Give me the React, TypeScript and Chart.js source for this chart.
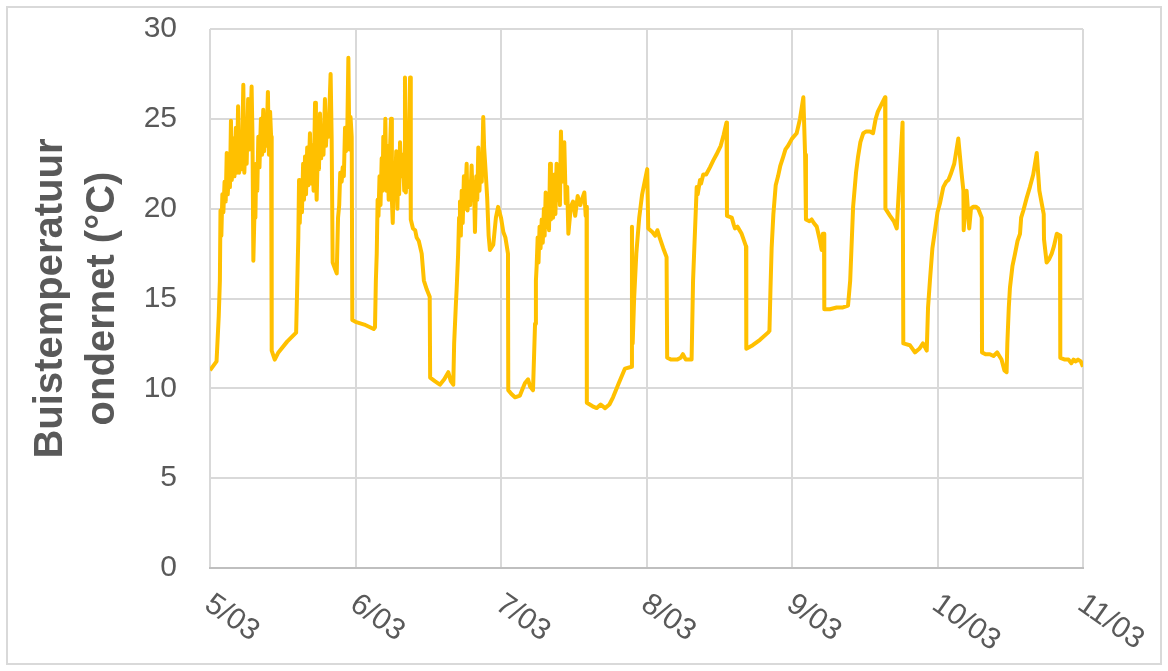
import React, { useEffect, useRef } from "react";
import { Chart, registerables } from "chart.js";

Chart.register(...registerables);

const xTickLabels = ["5/03", "6/03", "7/03", "8/03", "9/03", "10/03", "11/03"];
const yTicks = [0, 5, 10, 15, 20, 25, 30];
const yTitle = ["Buistemperatuur", "ondernet (°C)"];

// time in days since 5/03 00:00
const times = [
  0, 0.045, 0.06, 0.068, 0.072, 0.078, 0.085, 0.092, 0.1, 0.108, 0.115, 0.122, 0.13, 0.137, 0.144, 0.15, 0.16, 0.168, 0.178, 0.185,
  0.193, 0.2, 0.21, 0.218, 0.229, 0.236, 0.245, 0.252, 0.262, 0.27, 0.278, 0.286, 0.292, 0.298, 0.306, 0.312, 0.318, 0.325, 0.332, 0.34,
  0.35, 0.358, 0.366, 0.372, 0.38, 0.388, 0.398, 0.405, 0.413, 0.42, 0.424, 0.445, 0.47, 0.53, 0.592, 0.6, 0.607, 0.612, 0.617, 0.625,
  0.632, 0.64, 0.646, 0.653, 0.66, 0.668, 0.675, 0.687, 0.694, 0.703, 0.712, 0.722, 0.728, 0.733, 0.742, 0.749, 0.756, 0.764, 0.772, 0.78,
  0.79, 0.797, 0.806, 0.814, 0.829, 0.836, 0.843, 0.871, 0.88, 0.888, 0.895, 0.905, 0.912, 0.92, 0.928, 0.935, 0.943, 0.951, 0.958, 0.966,
  0.974, 0.978,
  1.0, 1.06, 1.1, 1.125, 1.134, 1.14, 1.146, 1.152, 1.158, 1.165, 1.172, 1.18, 1.186, 1.191, 1.198, 1.205, 1.212, 1.22, 1.228, 1.236,
  1.244, 1.25, 1.256, 1.265, 1.272, 1.28, 1.288, 1.295, 1.3, 1.306, 1.315, 1.325, 1.335, 1.34, 1.346, 1.355, 1.362, 1.375, 1.38, 1.395,
  1.41, 1.42, 1.435, 1.455, 1.47, 1.49, 1.51, 1.513, 1.545, 1.58, 1.61, 1.638, 1.655, 1.672, 1.678, 1.69, 1.695, 1.705, 1.712, 1.718,
  1.724, 1.73, 1.737, 1.745, 1.752, 1.764, 1.77, 1.78, 1.788, 1.798, 1.806, 1.814, 1.821, 1.83, 1.837, 1.844, 1.852, 1.86, 1.868, 1.878,
  1.884, 1.895, 1.905, 1.915, 1.924, 1.947, 1.965, 1.98, 2.0, 2.016, 2.03, 2.048,
  2.05, 2.07, 2.096, 2.13, 2.15, 2.165, 2.186, 2.2, 2.22, 2.228, 2.234, 2.24, 2.245, 2.252, 2.258, 2.265, 2.272, 2.28, 2.287, 2.295,
  2.3, 2.307, 2.314, 2.322, 2.33, 2.337, 2.343, 2.352, 2.358, 2.367, 2.374, 2.382, 2.39, 2.398, 2.405, 2.412, 2.42, 2.428, 2.435, 2.445,
  2.455, 2.463, 2.48, 2.495, 2.51, 2.527, 2.545, 2.56, 2.573, 2.582, 2.588, 2.59, 2.63, 2.658, 2.685, 2.715, 2.745, 2.77, 2.81, 2.852,
  2.898, 2.9, 2.905, 2.915, 2.93, 2.95, 2.97, 2.99, 3.005,
  3.012, 3.04, 3.06, 3.075, 3.09, 3.115, 3.138, 3.142, 3.17, 3.21, 3.235, 3.25, 3.27, 3.31, 3.32, 3.345, 3.352, 3.368, 3.375, 3.39,
  3.41, 3.436, 3.46, 3.48, 3.51, 3.53, 3.55, 3.553, 3.586, 3.6, 3.608, 3.625, 3.654, 3.684, 3.686, 3.73, 3.78, 3.835, 3.845, 3.852,
  3.86, 3.872, 3.888, 3.904, 3.92, 3.94, 3.955, 3.973, 4.0,
  4.032, 4.055, 4.078, 4.09, 4.096, 4.12, 4.135, 4.15, 4.17, 4.19, 4.204, 4.212, 4.22, 4.222, 4.26, 4.307, 4.35, 4.385, 4.4, 4.42,
  4.44, 4.454, 4.47, 4.49, 4.51, 4.536, 4.557, 4.575, 4.59, 4.615, 4.64, 4.642, 4.674, 4.7, 4.72, 4.76, 4.765, 4.81, 4.845, 4.875,
  4.9, 4.926, 4.935, 4.948, 4.965, 4.983, 5.0,
  5.017, 5.04, 5.06, 5.075, 5.09, 5.115, 5.143, 5.165, 5.178, 5.18, 5.2, 5.218, 5.23, 5.245, 5.265, 5.28, 5.304, 5.306, 5.33, 5.36,
  5.385, 5.41, 5.425, 5.44, 5.46, 5.475, 5.48, 5.49, 5.498, 5.515, 5.533, 5.55, 5.567, 5.575, 5.59, 5.613, 5.635, 5.658, 5.682, 5.7,
  5.73, 5.732, 5.75, 5.768, 5.785, 5.8, 5.82, 5.842, 5.844, 5.876, 5.9, 5.92, 5.935, 5.95, 5.966, 5.985, 6.0,
];

const temps = [
  11.0, 11.5, 14.0, 16.0, 19.9, 18.5, 20.8, 19.8, 21.5, 20.4, 23.1, 20.8, 22.0, 21.2, 24.9, 21.6, 23.9, 21.8, 24.5, 22.0,
  25.7, 22.0, 24.0, 22.2, 26.9, 22.0, 24.2, 22.5, 26.1, 23.3, 24.5, 26.8, 24.0, 17.1, 19.9, 19.5, 22.5, 21.0, 24.0, 22.3,
  25.0, 23.0, 25.5, 23.2, 24.5, 23.5, 26.5, 23.0, 25.4, 24.0, 12.1, 11.6, 12.0, 12.6, 13.1, 15.9, 18.4, 21.6, 19.2, 21.6,
  19.8, 22.5, 20.5, 22.9, 20.8, 23.4, 21.3, 24.2, 21.4, 23.5, 21.0, 25.9, 22.0, 20.5, 23.5, 22.2, 25.3, 22.8, 24.3, 23.0,
  26.1, 23.5, 25.0, 24.0, 27.5, 24.0, 17.0, 16.4, 19.5, 20.2, 22.0, 21.5, 22.3, 21.8, 24.5, 23.2, 24.0, 28.4, 23.3, 25.1,
  24.0, 13.8,
  13.7, 13.55, 13.4, 13.3, 13.4, 16.0, 17.5, 20.5, 19.6, 21.8, 20.2, 22.8, 21.0, 24.0, 21.5, 25.0, 21.0, 23.5, 20.5, 23.0,
  25.0, 20.5, 19.2, 22.5, 21.2, 23.2, 20.0, 22.8, 20.8, 23.7, 21.8, 23.0, 21.0, 27.3, 20.9, 23.0, 21.2, 27.3, 19.4, 18.9,
  18.8, 18.4, 18.2, 17.5, 16.0, 15.5, 15.1, 10.6, 10.4, 10.2, 10.5, 10.9, 10.4, 10.2, 12.5, 14.7, 15.5, 17.4, 19.5, 20.4,
  18.5, 21.0, 19.2, 21.8, 20.0, 22.5, 19.9, 21.5, 20.2, 22.4, 20.5, 21.5, 18.7, 21.8, 20.5, 23.4, 21.0, 23.0, 21.5, 25.1,
  23.4, 22.0, 20.6, 18.5, 17.7, 18.0, 19.5, 20.1, 19.5, 18.7, 18.4, 17.5,
  9.9, 9.7, 9.5, 9.6, 10.0, 10.3, 10.5, 10.1, 9.9, 12.0, 13.6, 16.0, 16.8, 18.4, 17.0, 19.0, 17.8, 19.4, 18.1, 20.0,
  18.5, 20.9, 19.0, 19.7, 18.8, 22.5, 19.4, 21.0, 19.5, 21.9, 19.7, 22.5, 20.5, 21.5, 20.2, 24.3, 21.5, 22.5, 23.7, 20.3,
  21.2, 18.6, 20.1, 20.4, 19.6, 20.7, 20.2, 20.6, 20.9, 19.6, 20.1, 9.2, 9.0, 8.9, 9.1, 8.9, 9.1, 9.5, 10.3, 11.1,
  11.2, 19.0, 12.5, 15.0, 17.5, 19.5, 20.8, 21.6, 22.2,
  18.9, 18.7, 18.5, 18.8, 18.4, 17.8, 17.3, 11.7, 11.6, 11.6, 11.7, 11.9, 11.6, 11.6, 16.0, 21.2, 20.8, 21.6, 21.4, 21.9,
  21.9, 22.3, 22.7, 23.0, 23.5, 24.1, 24.8, 19.6, 19.5, 19.1, 18.9, 19.0, 18.6, 17.9, 12.2, 12.4, 12.7, 13.1, 13.2, 15.5,
  17.8, 19.7, 21.3, 21.8, 22.4, 22.9, 23.3, 23.5, 23.9,
  24.2, 25.0, 26.2, 23.0, 19.4, 19.3, 19.4, 19.2, 19.0, 18.3, 17.7, 18.6, 18.6, 14.4, 14.4, 14.5, 14.5, 14.6, 16.0, 20.1,
  22.0, 22.9, 23.7, 24.2, 24.3, 24.3, 24.2, 25.0, 25.4, 25.8, 26.2, 20.0, 19.6, 19.3, 18.9, 24.8, 12.5, 12.4, 12.0, 12.2,
  12.5, 12.1, 14.5, 16.0, 17.8, 18.8, 19.8,
  20.3, 21.2, 21.5, 21.6, 21.9, 22.5, 23.9, 22.0, 21.0, 18.8, 21.0, 18.9, 20.0, 20.1, 20.1, 20.0, 19.5, 12.0, 11.9, 11.9,
  11.8, 12.0, 11.8, 11.6, 11.0, 10.9, 12.5, 14.5, 15.6, 16.8, 17.5, 18.2, 18.6, 19.5, 19.9, 20.6, 21.2, 21.9, 23.1, 21.0,
  19.7, 18.3, 17.0, 17.2, 17.5, 17.9, 18.6, 18.5, 11.7, 11.6, 11.6, 11.4, 11.6, 11.5, 11.6, 11.5, 11.2,
];

const FONT = '"Liberation Sans", Arial, sans-serif';
const TEXT_COLOR = "#595959";

const xLabelPlugin = {
  id: "rotatedXLabels",
  afterDraw(chart: any) {
    const ctx = chart.ctx;
    const xs = chart.scales.x;
    ctx.save();
    ctx.font = `30px ${FONT}`;
    ctx.fillStyle = TEXT_COLOR;
    ctx.textAlign = "left";
    ctx.textBaseline = "alphabetic";
    xTickLabels.forEach((lab, i) => {
      const px = xs.getPixelForValue(i);
      ctx.save();
      ctx.translate(px - 7, chart.chartArea.bottom + 40);
      ctx.rotate((35 * Math.PI) / 180);
      ctx.fillText(lab, 0, 0);
      ctx.restore();
    });
    ctx.restore();
  },
};

export default function App() {
  const canvasRef = useRef<HTMLCanvasElement | null>(null);

  useEffect(() => {
    if (!canvasRef.current) return;
    const points = times.map((t, i) => ({ x: t, y: temps[i] }));
    const chart = new Chart(canvasRef.current, {
      type: "line",
      data: {
        datasets: [
          {
            data: points,
            borderColor: "#FFC000",
            borderWidth: 4,
            pointRadius: 0,
            tension: 0,
            fill: false,
            borderJoinStyle: "round",
          },
        ],
      },
      options: {
        animation: false,
        responsive: false,
        layout: { padding: { left: 0, top: 29, right: 85, bottom: 0 } },
        plugins: { legend: { display: false }, tooltip: { enabled: false } },
        scales: {
          x: {
            type: "linear",
            min: 0,
            max: xTickLabels.length - 1,
            ticks: { display: false, stepSize: 1 },
            grid: { color: "#d9d9d9", lineWidth: 2, drawTicks: false },
            border: { color: "#bfbfbf", width: 2 },
            afterFit: (scale: any) => {
              scale.height = 103;
              scale.paddingLeft = 0;
              scale.paddingRight = 0;
            },
          },
          y: {
            min: yTicks[0],
            max: yTicks[yTicks.length - 1],
            afterBuildTicks: (scale: any) => {
              scale.ticks = yTicks.map((v) => ({ value: v }));
            },
            ticks: {
              color: TEXT_COLOR,
              font: { family: FONT, size: 30 },
              padding: 33,
            },
            grid: {
              color: (c: any) => (c.tick && c.tick.value === 0 ? "#bfbfbf" : "#d9d9d9"),
              lineWidth: 2,
              drawTicks: false,
            },
            border: { display: false },
            title: {
              display: true,
              text: yTitle,
              color: TEXT_COLOR,
              font: { family: FONT, size: 40, weight: "bold", lineHeight: 1.3 },
              padding: { top: 25, bottom: 0 },
            },
            afterFit: (scale: any) => {
              scale.width = 210;
              scale.paddingTop = 0;
              scale.paddingBottom = 0;
            },
          },
        },
      },
      plugins: [xLabelPlugin],
    });
    return () => chart.destroy();
  }, []);

  return (
    <div style={{ position: "fixed", left: 0, top: 0, width: 1168, height: 671, background: "#fff" }}>
      <canvas ref={canvasRef} width={1168} height={671} style={{ position: "absolute", left: 0, top: 0 }} />
      <div
        style={{
          position: "absolute",
          left: 6,
          top: 6,
          width: 1156,
          height: 659,
          border: "2px solid #d9d9d9",
          boxSizing: "border-box",
          pointerEvents: "none",
        }}
      />
    </div>
  );
}
